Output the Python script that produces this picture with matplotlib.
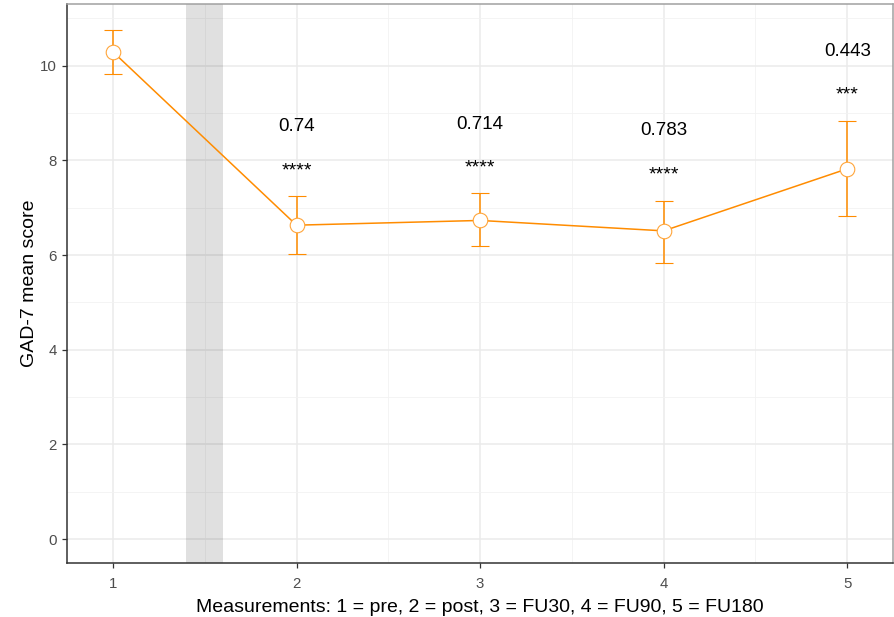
import matplotlib
matplotlib.use("Agg")
import matplotlib.pyplot as plt

plt.rcParams['font.family'] = ['Liberation Sans', 'DejaVu Sans']

## data
measure = [1, 2, 3, 4, 5]
mean_score = [10.29, 6.63, 6.73, 6.51, 7.82]
err_low = [9.83, 6.03, 6.18, 5.84, 6.82]
err_high = [10.76, 7.25, 7.30, 7.15, 8.83]
effect_lbl = ['', '0.74', '0.714', '0.783', '0.443']
effect_y = [None, 8.71, 8.75, 8.63, 10.30]
sig_lbl = ['', '****', '****', '****', '***']
sig_y = [None, 7.78, 7.83, 7.69, 9.38]

orange = '#FF8C00'

fig = plt.figure(figsize=(8.94, 6.17), dpi=100)
ax = fig.add_axes([0.075, 0.087, 0.924, 0.9065])

##grid like theme_bw
ax.set_axisbelow(True)
ax.set_xticks([1.5, 2.5, 3.5, 4.5], minor=True)
ax.set_yticks([1, 3, 5, 7, 9, 11], minor=True)
ax.grid(which='major', color='#EBEBEB', lw=1.1)
ax.grid(which='minor', color='#F2F2F2', lw=0.6)

##shaded intervention band
ax.axvspan(1.4, 1.6, color='black', alpha=0.12, lw=0, zorder=1.5)

##line + error bars
yerr = [[m - l for m, l in zip(mean_score, err_low)],
        [h - m for m, h in zip(mean_score, err_high)]]
ax.errorbar(measure, mean_score, yerr=yerr, color=orange, lw=1.1,
            capsize=6.2, capthick=1.1, elinewidth=1.1, zorder=3,
            marker='o', ms=10.5, mfc='white', mec='#FFA53A', mew=0.8)

for x, t, y in zip(measure, effect_lbl, effect_y):
  if t:
    ax.text(x, y, t, ha='center', va='center', fontsize=13.5, color='black')
for x, t, y in zip(measure, sig_lbl, sig_y):
  if t:
    ax.text(x, y, t, ha='center', va='center', fontsize=14, color='black')

ax.set_xlim(0.75, 5.25)
ax.set_ylim(-0.51, 11.3)
ax.set_xticks(measure)
ax.set_yticks([0, 2, 4, 6, 8, 10])
ax.tick_params(which='major', length=3.5, width=0.9, color='#333333',
               labelcolor='#4D4D4D', labelsize=10.8, pad=4)
ax.tick_params(axis='x', which='major', pad=6)
ax.tick_params(which='minor', length=0)

for s in ['top', 'right']:
  ax.spines[s].set_color('#A0A0A0')
  ax.spines[s].set_linewidth(1.1)
for s in ['left', 'bottom']:
  ax.spines[s].set_color('#333333')
  ax.spines[s].set_linewidth(1.1)

ax.set_xlabel('Measurements: 1 = pre, 2 = post, 3 = FU30, 4 = FU90, 5 = FU180',
              fontsize=14, labelpad=6)
ax.set_ylabel('GAD-7 mean score', fontsize=14, labelpad=1)

fig.savefig('out.png', dpi=100)
